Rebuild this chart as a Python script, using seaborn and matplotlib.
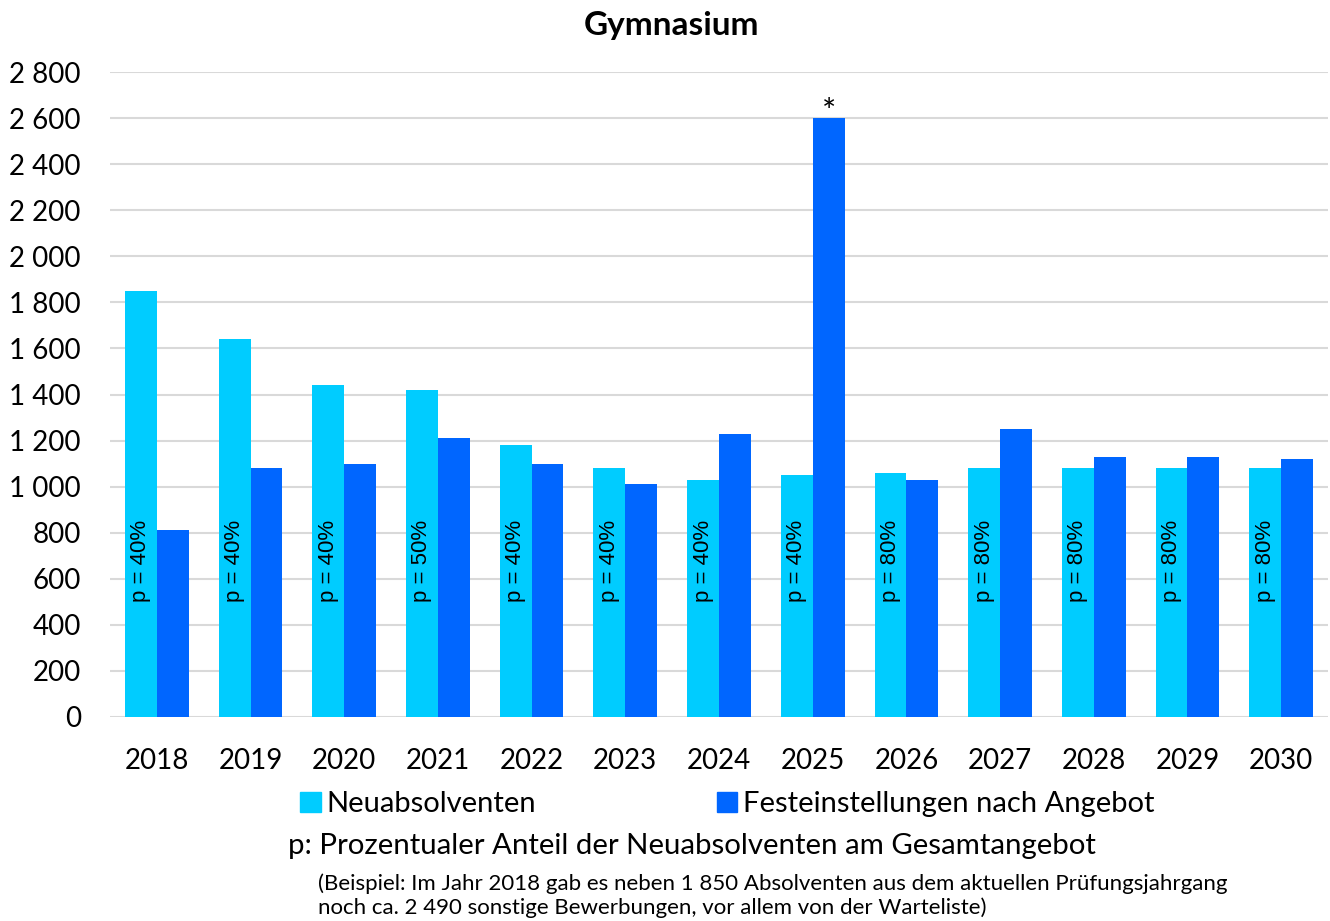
import pandas as pd
import matplotlib.pyplot as plt
import seaborn as sns
from matplotlib.ticker import FuncFormatter
from matplotlib.patches import Patch

# Data
years = ['2018', '2019', '2020', '2021', '2022', '2023', '2024',
         '2025', '2026', '2027', '2028', '2029', '2030']
neuabsolventen = [1850, 1640, 1440, 1420, 1180, 1080, 1030,
                  1050, 1060, 1080, 1080, 1080, 1080]
festeinstellungen = [810, 1080, 1100, 1210, 1100, 1010, 1230,
                     2600, 1030, 1250, 1130, 1130, 1120]
p_labels = ['40%', '40%', '40%', '50%', '40%', '40%', '40%',
            '40%', '80%', '80%', '80%', '80%', '80%']
series_names = ['Neuabsolventen', 'Festeinstellungen nach Angebot']
colors = ['#00CCFF', '#0066FF']

df = pd.DataFrame({
    'Jahr': years * 2,
    'Wert': neuabsolventen + festeinstellungen,
    'Serie': [series_names[0]] * len(years) + [series_names[1]] * len(years),
})

sns.set_theme(style='white')
plt.rcParams['font.family'] = ['Lato', 'DejaVu Sans']
plt.rcParams['text.color'] = 'black'

fig = plt.figure(figsize=(13.3, 9.21), dpi=100)
ax = fig.add_axes([0.0827, 0.2215, 0.9158, 0.7003])

sns.barplot(data=df, x='Jahr', y='Wert', hue='Serie', palette=colors,
            saturation=1, width=0.68, gap=0, linewidth=0, legend=False, ax=ax)

ax.set_ylim(0, 2800)
ax.set_yticks(range(0, 2801, 200))
ax.yaxis.set_major_formatter(FuncFormatter(lambda v, _: f'{v:,.0f}'.replace(',', ' ')))
ax.grid(axis='y', color='#D9D9D9', linewidth=1.5)
ax.set_axisbelow(True)
for s in ax.spines.values():
    s.set_visible(False)
ax.tick_params(axis='both', length=0, labelsize=20, colors='black')
ax.tick_params(axis='x', pad=22)
ax.tick_params(axis='y', pad=21)
ax.set_xlabel('')
ax.set_ylabel('')
ax.set_xlim(-0.5, len(years) - 0.5)

# p labels inside the light bars
for bar, lab in zip(ax.containers[0], p_labels):
    ax.text(bar.get_x() + bar.get_width() / 2, 500, f'p = {lab}',
            rotation=90, ha='center', va='bottom', fontsize=16,
            family=['Liberation Sans', 'DejaVu Sans'])

# asterisk above the 2025 peak
peak = ax.containers[1][years.index('2025')]
ax.text(peak.get_x() + peak.get_width() / 2, peak.get_height() - 45, '*',
        ha='center', va='bottom', fontsize=24)

fig.suptitle('Gymnasium', y=0.988, x=0.505, fontsize=24, fontweight='bold')

handles = [Patch(color=c, label=n) for c, n in zip(colors, series_names)]
fig.legend(handles=handles, loc='center', bbox_to_anchor=(0.547, 0.127), ncol=2,
           frameon=False, fontsize=21, handlelength=0.7, handleheight=0.7,
           handletextpad=0.2, columnspacing=6.2)

fig.text(0.2165, 0.081, 'p: Prozentualer Anteil der Neuabsolventen am Gesamtangebot',
         fontsize=21.2, va='center')
fig.text(0.239, 0.040, '(Beispiel: Im Jahr 2018 gab es neben 1 850 Absolventen aus dem aktuellen Prüfungsjahrgang',
         fontsize=16, va='center')
fig.text(0.239, 0.014, 'noch ca. 2 490 sonstige Bewerbungen, vor allem von der Warteliste)',
         fontsize=16, va='center')

fig.savefig('out.png', dpi=100)
